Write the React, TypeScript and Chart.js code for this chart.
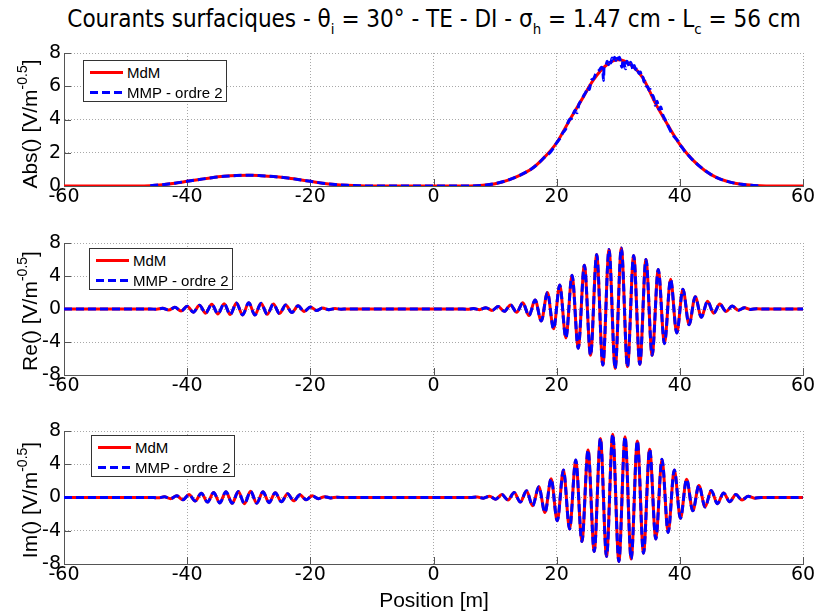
import React, { useEffect, useRef } from "react";
import { Chart, registerables } from "chart.js";
Chart.register(...registerables);

type Pt = [number, number];

// ---------- data ----------
const xMin = -60;
const xMax = 60;
const xStep = 20;

const absRange = [0, 8, 2];
const reImRange = [-8, 8, 4];

const seriesNames = ["MdM", "MMP - ordre 2"];
const yLabelNames = ["Abs()", "Re()", "Im()"];
const xLabel = "Position [m]";

// |J| - MdM (smooth)
const absMdM: Pt[] = [
  [-60, 0], [-48, 0], [-46, 0.02], [-44, 0.08], [-42, 0.17], [-40, 0.28], [-38, 0.39], [-36, 0.5],
  [-34, 0.58], [-32, 0.63], [-30, 0.65], [-28, 0.62], [-26, 0.57], [-24, 0.49], [-22, 0.39],
  [-20, 0.28], [-18, 0.17], [-16, 0.09], [-14, 0.04], [-12, 0.01], [-10, 0], [6, 0], [8, 0.04],
  [10, 0.14], [12, 0.34], [14, 0.64], [16, 1.05], [18, 1.72], [20, 2.6], [22, 3.9], [24, 5.15],
  [26, 6.4], [28, 7.25], [30, 7.6], [32, 7.3], [34, 6.5], [36, 5.0], [38, 3.7], [40, 2.5],
  [42, 1.6], [44, 0.95], [46, 0.5], [48, 0.25], [50, 0.1], [52, 0.03], [54, 0], [60, 0],
];

// |J| - MMP (noisy near the peak)
const absMMP: Pt[] = [
  [-46, 0.02], [-44, 0.08], [-42, 0.17], [-40, 0.28], [-38, 0.39], [-36, 0.5], [-34, 0.58],
  [-32, 0.63], [-30, 0.65], [-28, 0.62], [-26, 0.57], [-24, 0.49], [-22, 0.39], [-20, 0.28],
  [-18, 0.17], [-16, 0.09], [-14, 0.04], [-12, 0.01], [-10, 0], [6, 0], [8, 0.04], [10, 0.14],
  [12, 0.34], [14, 0.64], [16, 1.05], [17, 1.35], [18, 1.72], [19, 2.05], [19.5, 2.3], [20, 2.6],
  [20.5, 2.85], [21, 3.2], [21.5, 3.45], [22, 3.95], [22.5, 4.1], [23, 4.55], [23.3, 4.4],
  [23.6, 4.9], [24, 5.15], [24.5, 5.5], [24.8, 5.7], [25, 5.95], [25.3, 5.8], [25.6, 6.35],
  [26, 6.45], [26.3, 6.7], [26.6, 6.85], [27, 7.0], [27.3, 7.15], [27.5, 6.95], [27.6, 6.35],
  [27.7, 7.2], [28, 7.25], [28.2, 7.5], [28.4, 7.3], [28.6, 7.55], [28.8, 7.4], [29.0, 7.7],
  [29.2, 7.5], [29.4, 7.75], [29.6, 7.55], [29.8, 7.8], [30, 7.65], [30.2, 7.75], [30.4, 7.4],
  [30.6, 7.15], [30.8, 7.6], [31, 7.25], [31.2, 7.05], [31.4, 7.5], [31.6, 7.35], [31.8, 7.2],
  [32.0, 7.45], [32.2, 7.25], [32.4, 7.0], [32.6, 7.25], [32.8, 7.0], [33, 7.15], [33.2, 6.9],
  [33.4, 6.75], [33.6, 6.85], [33.8, 6.5], [34.0, 6.55], [34.2, 6.25], [34.4, 6.3], [34.6, 6.0],
  [34.8, 5.95], [35, 5.75], [35.2, 5.8], [35.4, 5.5], [35.6, 5.45], [35.8, 5.25], [36, 4.85],
  [36.3, 5.1], [36.6, 4.6], [36.9, 4.75], [37.2, 4.3], [37.6, 4.0], [38, 3.7], [38.5, 3.3],
  [39, 3.0], [39.5, 2.8], [40, 2.5], [40.5, 2.25], [41, 2.0], [41.5, 1.8], [42, 1.6], [43, 1.25],
  [44, 0.95], [46, 0.5], [48, 0.25], [50, 0.1], [52, 0.03], [53, 0],
];

// Re(J): extrema of the oscillation (both methods overlap)
const reValues: Pt[] = [
  [-60, 0], [-46, 0], [-45, -0.03], [-44, 0.08], [-43, -0.12], [-42, 0.2], [-41, -0.25],
  [-40, 0.33], [-39, -0.38], [-38, 0.45], [-37, -0.5], [-36, 0.58], [-35, -0.6], [-34, 0.65],
  [-33, -0.68], [-32, 0.72], [-31, -0.72], [-30, 0.75], [-29, -0.72], [-28, 0.7], [-27, -0.65],
  [-26, 0.6], [-25, -0.55], [-24, 0.5], [-23, -0.43], [-22, 0.38], [-21, -0.3], [-20, 0.25],
  [-19, -0.18], [-18, 0.13], [-17, -0.08], [-16, 0.05], [-15, -0.02], [-14, 0],
  [4, 0], [5.5, -0.03], [6.5, 0.05], [7.5, -0.08], [8.5, 0.15], [9.5, -0.18], [10.5, 0.3],
  [11.5, -0.28], [12.5, 0.5], [13.5, -0.4], [14.5, 0.75], [15.5, -0.8], [16.5, 1.1],
  [17.5, -1.45], [18.5, 2.0], [19.5, -2.4], [20.5, 2.9], [21.5, -3.5], [22.5, 4.1],
  [23.5, -4.75], [24.5, 5.3], [25.5, -5.6], [26.5, 6.6], [27.5, -6.8], [28.5, 7.2],
  [29.5, -7.2], [30.5, 7.4], [31.5, -7.0], [32.5, 6.5], [33.5, -6.7], [34.5, 6.0],
  [35.5, -5.6], [36.5, 4.8], [37.5, -4.2], [38.5, 3.6], [39.5, -2.9], [40.5, 2.4],
  [41.5, -1.9], [42.5, 1.5], [43.5, -1.0], [44.5, 0.95], [45.5, -0.5], [46.5, 0.6],
  [47.5, -0.3], [48.5, 0.35], [49.5, -0.15], [50.5, 0.15], [51.5, -0.05], [52.5, 0.03],
  [54, 0], [60, 0],
];

// Im(J): extrema of the oscillation (both methods overlap)
const imValues: Pt[] = [
  [-60, 0], [-45.5, 0], [-44.7, -0.04], [-43.7, 0.08], [-42.7, -0.14], [-41.7, 0.2],
  [-40.7, -0.28], [-39.7, 0.35], [-38.7, -0.42], [-37.7, 0.5], [-36.7, -0.55], [-35.7, 0.6],
  [-34.7, -0.65], [-33.7, 0.7], [-32.7, -0.7], [-31.7, 0.72], [-30.7, -0.75], [-29.7, 0.75],
  [-28.7, -0.7], [-27.7, 0.68], [-26.7, -0.62], [-25.7, 0.58], [-24.7, -0.52], [-23.7, 0.45],
  [-22.7, -0.4], [-21.7, 0.33], [-20.7, -0.27], [-19.7, 0.2], [-18.7, -0.14], [-17.7, 0.1],
  [-16.7, -0.05], [-15.7, 0.03], [-14.5, 0],
  [6, 0], [7.1, 0.05], [8.1, -0.08], [9.1, 0.15], [10.1, -0.2], [11.1, 0.35], [12.1, -0.3],
  [13.1, 0.6], [14.1, -0.55], [15.1, 0.8], [16.1, -1.0], [17.1, 1.3], [18.1, -1.8],
  [19.1, 2.25], [20.1, -2.8], [21.1, 3.3], [22.1, -3.8], [23.1, 4.5], [24.1, -5.3],
  [25.1, 5.7], [26.1, -6.5], [27.1, 7.1], [28.1, -7.1], [29.1, 7.6], [30.1, -7.7],
  [31.1, 7.3], [32.1, -7.4], [33.1, 6.8], [34.1, -6.7], [35.1, 5.8], [36.1, -5.0],
  [37.1, 4.6], [38.1, -4.2], [39.1, 3.3], [40.1, -2.5], [41.1, 2.2], [42.1, -1.6],
  [43.1, 1.45], [44.1, -1.15], [45.1, 0.85], [46.1, -0.75], [47.1, 0.55], [48.1, -0.5],
  [49.1, 0.35], [50.1, -0.3], [51.1, 0.15], [52.1, -0.08], [53.2, 0], [60, 0],
];

// ---------- styling ----------
const RED = "#ff0000";
const BLUE = "#0000ff";
const AXIS = "#555555";
const GRID = "#a8a8a8";
const FONT = "'Liberation Sans', Arial, sans-serif";
const TICK_FONT = "'DejaVu Sans', 'Liberation Sans', sans-serif";

const insideTicks = {
  id: "insideTicks",
  beforeDatasetsDraw(chart: any) {
    const { ctx, chartArea: a, scales } = chart;
    ctx.save();
    ctx.strokeStyle = AXIS;
    ctx.lineWidth = 1;
    ctx.beginPath();
    for (const t of scales.x.ticks) {
      const p = Math.round(scales.x.getPixelForValue(t.value)) + 0.5;
      ctx.moveTo(p, a.bottom);
      ctx.lineTo(p, a.bottom - 7);
    }
    for (const t of scales.y.ticks) {
      const p = Math.round(scales.y.getPixelForValue(t.value)) + 0.5;
      ctx.moveTo(a.left, p);
      ctx.lineTo(a.left + 7, p);
    }
    ctx.stroke();
    ctx.restore();
  },
};

const toXY = (arr: Pt[]) => arr.map(([x, y]) => ({ x, y }));

type PlotProps = {
  top: number;
  height: number;
  mdm: Pt[];
  mmp: Pt[];
  range: number[];
};

function Plot({ top, height, mdm, mmp, range }: PlotProps) {
  const ref = useRef<HTMLCanvasElement>(null);
  useEffect(() => {
    const chart = new Chart(ref.current as HTMLCanvasElement, {
      type: "line",
      data: {
        datasets: [
          {
            label: seriesNames[0],
            data: toXY(mdm),
            borderColor: RED,
            borderWidth: 3,
            pointRadius: 0,
            cubicInterpolationMode: "monotone",
            order: 2,
          },
          {
            label: seriesNames[1],
            data: toXY(mmp),
            borderColor: BLUE,
            borderWidth: 3,
            borderDash: [8, 4],
            pointRadius: 0,
            cubicInterpolationMode: "monotone",
            order: 1,
          },
        ],
      },
      options: {
        animation: false,
        responsive: false,
        maintainAspectRatio: false,
        devicePixelRatio: 1,
        layout: { padding: { left: 0, right: 27, top: 15, bottom: 0 } },
        plugins: { legend: { display: false }, tooltip: { enabled: false }, title: { display: false } },
        scales: {
          x: {
            type: "linear",
            min: xMin,
            max: xMax,
            ticks: { stepSize: xStep, color: "#000", font: { family: TICK_FONT, size: 19 }, padding: 0, maxRotation: 0 },
            grid: { color: GRID, lineWidth: 1, drawTicks: false },
            border: { display: true, color: AXIS, width: 1, dash: [1, 2] },
            afterFit: (s: any) => {
              s.height = 30;
            },
          },
          y: {
            type: "linear",
            min: range[0],
            max: range[1],
            ticks: { stepSize: range[2], color: "#000", font: { family: TICK_FONT, size: 19 }, padding: 3 },
            grid: { color: GRID, lineWidth: 1, drawTicks: false },
            border: { display: true, color: AXIS, width: 1, dash: [1, 2] },
            afterFit: (s: any) => {
              s.width = 64;
            },
          },
        },
      },
      plugins: [insideTicks],
    } as any);
    return () => chart.destroy();
  }, []);
  return (
    <canvas
      ref={ref}
      width={830}
      height={height}
      style={{ position: "absolute", left: 0, top, width: 830, height }}
    />
  );
}

function Legend({ left, top }: { left: number; top: number }) {
  const row = (i: number) => (
    <div
      key={i}
      style={{ position: "absolute", left: 0, top: i === 0 ? 1 : 20.5, height: 21, width: 144 }}
    >
      <svg width={40} height={21} style={{ position: "absolute", left: 0, top: 0 }}>
        <line
          x1={6}
          y1={10.5}
          x2={39}
          y2={10.5}
          stroke={i === 0 ? RED : BLUE}
          strokeWidth={3}
          strokeDasharray={i === 0 ? undefined : "8 4"}
        />
      </svg>
      <span
        style={{
          position: "absolute",
          left: 43,
          top: 0,
          lineHeight: "21px",
          fontSize: 15,
          fontFamily: FONT,
          whiteSpace: "nowrap",
          color: "#000",
        }}
      >
        {seriesNames[i]}
      </span>
    </div>
  );
  return (
    <div
      style={{
        position: "absolute",
        left,
        top,
        width: 144,
        height: 42,
        boxSizing: "border-box",
        border: "1px solid #333",
        background: "#fff",
      }}
    >
      {row(0)}
      {row(1)}
    </div>
  );
}

function YLabel({ name, cy }: { name: string; cy: number }) {
  return (
    <div
      style={{
        position: "absolute",
        left: 31,
        top: cy,
        transform: "translate(-50%, -50%) rotate(-90deg)",
        whiteSpace: "nowrap",
        fontFamily: FONT,
        fontSize: 21,
        lineHeight: "24px",
        color: "#000",
      }}
    >
      {name} [V/m
      <span style={{ fontSize: 14, position: "relative", top: -10 }}>-0.5</span>]
    </div>
  );
}

const Sub = ({ t }: { t: string }) => (
  <span style={{ fontSize: "0.62em", position: "relative", top: "0.45em" }}>{t}</span>
);

export default function App() {
  return (
    <div
      style={{
        position: "fixed",
        left: 0,
        top: 0,
        width: 815,
        height: 615,
        overflow: "hidden",
        background: "#fff",
      }}
    >
      <div
        style={{
          position: "absolute",
          left: 434,
          top: 6,
          transform: "translateX(-50%)",
          whiteSpace: "nowrap",
          fontFamily: "'Liberation Sans Narrow', 'DejaVu Sans Condensed', 'Liberation Sans', sans-serif",
          fontSize: 24,
          lineHeight: "26px",
          color: "#000",
        }}
      >
        Courants surfaciques - θ<Sub t="i" /> = 30° - TE - DI - σ<Sub t="h" /> = 1.47 cm - L
        <Sub t="c" /> = 56 cm
      </div>

      <Plot top={38} height={178} mdm={absMdM} mmp={absMMP} range={absRange} />
      <Plot top={228} height={177} mdm={reValues} mmp={reValues} range={reImRange} />
      <Plot top={416} height={178} mdm={imValues} mmp={imValues} range={reImRange} />

      <Legend left={83} top={60} />
      <Legend left={89} top={248} />
      <Legend left={91} top={435} />

      <YLabel name={yLabelNames[0]} cy={124} />
      <YLabel name={yLabelNames[1]} cy={311} />
      <YLabel name={yLabelNames[2]} cy={500} />

      <div
        style={{
          position: "absolute",
          left: 434,
          top: 600,
          transform: "translate(-50%, -50%)",
          whiteSpace: "nowrap",
          fontFamily: FONT,
          fontSize: 21,
          lineHeight: "24px",
          color: "#000",
        }}
      >
        {xLabel}
      </div>
    </div>
  );
}
